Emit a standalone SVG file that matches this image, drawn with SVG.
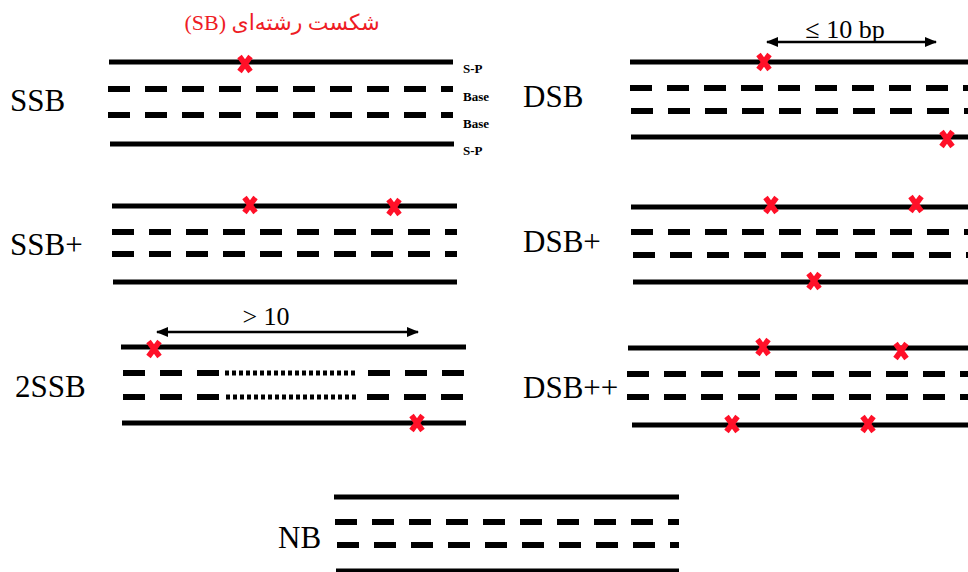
<svg xmlns="http://www.w3.org/2000/svg" width="968" height="572" viewBox="0 0 968 572">
<style>
.s{stroke:#000;stroke-width:5;fill:none}
.d{stroke:#000;stroke-width:6;stroke-dasharray:22 15;fill:none}
.dot{stroke:#000;stroke-width:5;stroke-dasharray:4 3;fill:none}
.x{stroke:#ff1028;stroke-width:5.5;fill:none}
.lbl{font-family:"Liberation Serif","Times New Roman",serif;font-size:31px;fill:#000}
.sm{font-family:"Liberation Serif","Times New Roman",serif;font-size:13px;font-weight:bold;fill:#000}
.dim{font-family:"Liberation Serif","Times New Roman",serif;font-size:26px;fill:#000}
.ttl{font-family:"Liberation Serif","DejaVu Sans",serif;font-size:22px;fill:#ee1c25}
.arr{stroke:#000;stroke-width:2.5;fill:none}
</style>
<defs>
<marker id="ah" viewBox="0 0 12 10" refX="11" refY="5" markerWidth="12" markerHeight="10" markerUnits="userSpaceOnUse" orient="auto-start-reverse">
<path d="M0,0 L12,5 L0,10 z" fill="#000"/>
</marker>
<g id="xm"><path class="x" d="M-5.5,-7.5 L5.5,7.5 M5.5,-7.5 L-5.5,7.5"/></g>
</defs>
<rect width="968" height="572" fill="#fff"/>

<g id="title">
<text class="ttl" x="282" y="30" text-anchor="middle" direction="rtl">شکست رشته‌ای (SB)</text>
</g>

<g id="ssb">
<text class="lbl" x="10" y="111">SSB</text>
<line class="s" x1="109" y1="62" x2="453" y2="62"/>
<line class="d" x1="108" y1="89" x2="453" y2="89"/>
<line class="d" x1="108" y1="115" x2="453" y2="115"/>
<line class="s" x1="110" y1="144" x2="454" y2="144"/>
<text class="sm" x="463" y="73">S-P</text>
<text class="sm" x="463" y="101">Base</text>
<text class="sm" x="463" y="128">Base</text>
<text class="sm" x="463" y="155">S-P</text>
<use href="#xm" x="245" y="64"/>
</g>

<g id="dsb">
<text class="lbl" x="523" y="107">DSB</text>
<line class="s" x1="630" y1="62" x2="968" y2="62"/>
<line class="d" x1="630" y1="88" x2="968" y2="88"/>
<line class="d" x1="631" y1="111" x2="968" y2="111"/>
<line class="s" x1="631" y1="137" x2="968" y2="137"/>
<text class="dim" x="845" y="38" text-anchor="middle">≤ 10 bp</text>
<use href="#xm" x="764" y="62"/>
<use href="#xm" x="947" y="139"/>
</g>

<g id="ssbplus">
<text class="lbl" x="10" y="255">SSB+</text>
<line class="s" x1="112" y1="206" x2="457" y2="206"/>
<line class="d" x1="112" y1="232" x2="457" y2="232"/>
<line class="d" x1="112" y1="254" x2="457" y2="254"/>
<line class="s" x1="113" y1="282" x2="457" y2="282"/>
<use href="#xm" x="250" y="205"/>
<use href="#xm" x="394" y="207"/>
</g>

<g id="dsbplus">
<text class="lbl" x="523" y="252">DSB+</text>
<line class="s" x1="631" y1="207" x2="968" y2="207"/>
<line class="d" x1="631" y1="232" x2="968" y2="232"/>
<line class="d" x1="633" y1="255" x2="968" y2="255"/>
<line class="s" x1="633" y1="282" x2="968" y2="282"/>
<use href="#xm" x="771" y="205"/>
<use href="#xm" x="916" y="204"/>
<use href="#xm" x="814" y="281"/>
</g>

<g id="twossb">
<text class="lbl" x="15" y="397">2SSB</text>
<line class="s" x1="121" y1="347" x2="466" y2="347"/>
<line class="d" x1="123" y1="373" x2="220" y2="373"/>
<line class="dot" x1="225" y1="373" x2="358" y2="373"/>
<line class="d" x1="368" y1="373" x2="466" y2="373"/>
<line class="d" x1="123" y1="397" x2="220" y2="397"/>
<line class="dot" x1="226" y1="397" x2="359" y2="397"/>
<line class="d" x1="367" y1="397" x2="464" y2="397"/>
<line class="s" x1="122" y1="423" x2="466" y2="423"/>
<text class="dim" x="266" y="325" text-anchor="middle">&gt; 10</text>
<use href="#xm" x="154" y="349"/>
<use href="#xm" x="417" y="423"/>
</g>

<g id="dsbpp">
<text class="lbl" x="523" y="398">DSB++</text>
<line class="s" x1="628" y1="348" x2="968" y2="348"/>
<line class="d" x1="627" y1="374" x2="968" y2="374"/>
<line class="d" x1="627" y1="397" x2="968" y2="397"/>
<line class="s" x1="632" y1="425" x2="968" y2="425"/>
<use href="#xm" x="763" y="347"/>
<use href="#xm" x="901" y="351"/>
<use href="#xm" x="732" y="424"/>
<use href="#xm" x="868" y="424"/>
</g>

<g id="nb">
<text class="lbl" x="278" y="548">NB</text>
<line class="s" x1="334" y1="497" x2="679" y2="497"/>
<line class="d" x1="335" y1="522" x2="679" y2="522"/>
<line class="d" x1="337" y1="545" x2="679" y2="545"/>
<line class="s" x1="336" y1="571" x2="679" y2="571"/>
</g>

<g id="connectors">
<line class="arr" x1="767" y1="42" x2="936" y2="42" marker-start="url(#ah)" marker-end="url(#ah)"/>
<line class="arr" x1="157" y1="332" x2="418" y2="332" marker-start="url(#ah)" marker-end="url(#ah)"/>
</g>
</svg>
